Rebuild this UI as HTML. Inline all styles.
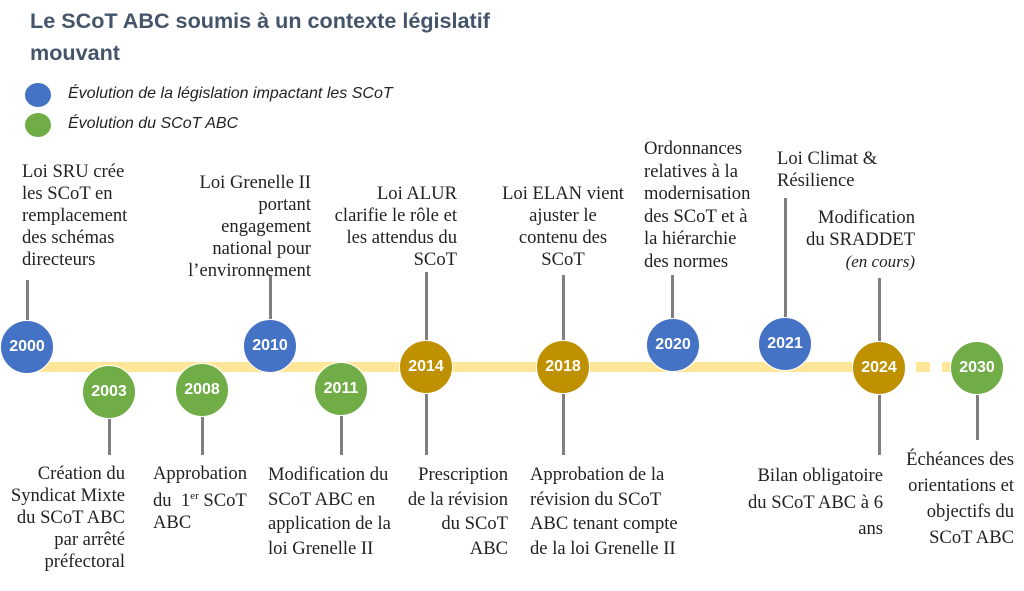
<!DOCTYPE html>
<html><head><meta charset="utf-8"><style>
body{margin:0;width:1024px;height:591px;background:#fff;position:relative;overflow:hidden;font-family:"Liberation Serif",serif;}
.t{position:absolute;font-size:18.6px;line-height:22px;color:#222;white-space:nowrap;}
.r{text-align:right}.c{text-align:center}
.c1{position:absolute;width:54px;height:54px;border-radius:50%;border:1.5px solid #fff;box-sizing:border-box;color:#fff;font:bold 16px/51px "Liberation Sans",sans-serif;text-align:center;}
.b{background:#4472c4}.g{background:#70ad47}.o{background:#bf9000}
.ln{position:absolute;width:3px;background:#7f7f7f;}
.band{position:absolute;height:10px;background:#ffe699;top:362px}
h1{position:absolute;left:30px;top:5px;margin:0;font:bold 21.6px/32px "Liberation Sans",sans-serif;color:#44546a;}
.lg{position:absolute;font:italic 16px "Liberation Sans",sans-serif;color:#222}
.dot{position:absolute;width:26px;height:24px;border-radius:50%}
</style></head><body>
<h1>Le SCoT ABC soumis à un contexte législatif<br>mouvant</h1>
<div class="dot b" style="left:25px;top:83px"></div><div class="lg" style="left:68px;top:85px">Évolution de la législation impactant les SCoT</div>
<div class="dot g" style="left:25px;top:113px"></div><div class="lg" style="left:68px;top:115px">Évolution du SCoT ABC</div>

<div class="band" style="left:40px;width:812px"></div>
<div class="band" style="left:916px;width:14px"></div>
<div class="band" style="left:942px;width:15px"></div>

<div class="ln" style="left:26px;top:280px;height:40px"></div>
<div class="ln" style="left:269px;top:276px;height:44px"></div>
<div class="ln" style="left:425px;top:272px;height:70px"></div>
<div class="ln" style="left:425px;top:392px;height:63px"></div>
<div class="ln" style="left:562px;top:275px;height:67px"></div>
<div class="ln" style="left:562px;top:392px;height:63px"></div>
<div class="ln" style="left:671px;top:275px;height:45px"></div>
<div class="ln" style="left:784px;top:198px;height:120px"></div>
<div class="ln" style="left:878px;top:278px;height:64px"></div>
<div class="ln" style="left:878px;top:393px;height:62px"></div>
<div class="ln" style="left:108px;top:415px;height:40px"></div>
<div class="ln" style="left:201px;top:415px;height:40px"></div>
<div class="ln" style="left:340px;top:415px;height:40px"></div>
<div class="ln" style="left:976px;top:393px;height:47px"></div>

<div class="c1 b" style="left:0px;top:320px">2000</div>
<div class="c1 g" style="left:82px;top:365px">2003</div>
<div class="c1 g" style="left:175px;top:363px">2008</div>
<div class="c1 b" style="left:243px;top:319px">2010</div>
<div class="c1 g" style="left:314px;top:362px">2011</div>
<div class="c1 o" style="left:399px;top:340px">2014</div>
<div class="c1 o" style="left:536px;top:340px">2018</div>
<div class="c1 b" style="left:646px;top:318px">2020</div>
<div class="c1 b" style="left:758px;top:317px">2021</div>
<div class="c1 o" style="left:852px;top:341px">2024</div>
<div class="c1 g" style="left:950px;top:341px">2030</div>

<div class="t" style="left:22px;top:161px">Loi SRU crée<br>les SCoT en<br>remplacement<br>des schémas<br>directeurs</div>
<div class="t r" style="right:713px;top:172px">Loi Grenelle II<br>portant<br>engagement<br>national pour<br>l’environnement</div>
<div class="t r" style="right:567px;top:183px">Loi ALUR<br>clarifie le rôle et<br>les attendus du<br>SCoT</div>
<div class="t c" style="left:483px;width:160px;top:183px">Loi ELAN vient<br>ajuster le<br>contenu des<br>SCoT</div>
<div class="t" style="left:644px;top:138px;line-height:22.6px">Ordonnances<br>relatives à la<br>modernisation<br>des SCoT et à<br>la hiérarchie<br>des normes</div>
<div class="t" style="left:777px;top:148px">Loi Climat &amp;<br>Résilience</div>
<div class="t r" style="right:109px;top:207px">Modification<br>du SRADDET<br><i style="font-size:17px">(en cours)</i></div>

<div class="t r" style="right:899px;top:463px">Création du<br>Syndicat Mixte<br>du SCoT ABC<br>par arrêté<br>préfectoral</div>
<div class="t" style="left:153px;top:463px">Approbation<br>du&nbsp; 1<sup style="font-size:11px">er</sup> SCoT<br>ABC</div>
<div class="t" style="left:268px;top:463px;line-height:24.5px">Modification du<br>SCoT ABC en<br>application de la<br>loi Grenelle II</div>
<div class="t r" style="right:516px;top:463px;line-height:24.5px">Prescription<br>de la révision<br>du SCoT<br>ABC</div>
<div class="t" style="left:530px;top:463px;line-height:24.5px">Approbation de la<br>révision du SCoT<br>ABC tenant compte<br>de la loi Grenelle II</div>
<div class="t r" style="right:141px;top:463px;line-height:26.5px">Bilan obligatoire<br>du SCoT ABC à 6<br>ans</div>
<div class="t r" style="right:10px;top:447px;line-height:26px">Échéances des<br>orientations et<br>objectifs du<br>SCoT ABC</div>
</body></html>
